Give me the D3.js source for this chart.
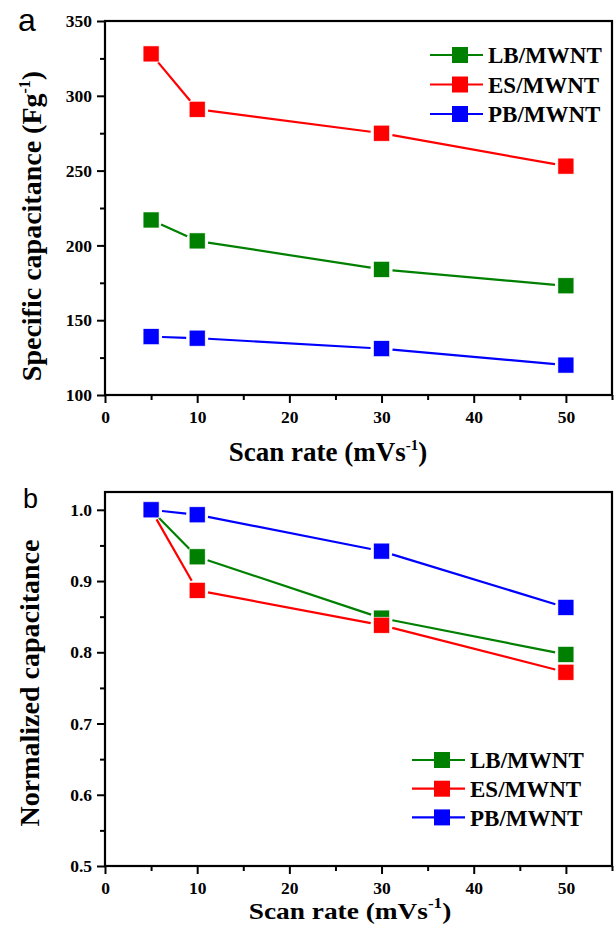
<!DOCTYPE html>
<html>
<head>
<meta charset="utf-8">
<script src="https://cdn.jsdelivr.net/npm/d3@7"></script>
<style>
  body { margin: 0; background: #fff; }
  svg { display: block; }
</style>
</head>
<body>
<svg width="614" height="930"></svg>
<script>
const scanRates = [5, 10, 30, 50];
const seriesNames = ["LB/MWNT", "ES/MWNT", "PB/MWNT"];
const seriesColors = ["#008000", "#ff0000", "#0000ff"];

// specific capacitance (F/g)
const lbCap = [217, 203, 184, 173];
const esCap = [328, 291, 275, 253];
const pbCap = [139, 138, 131, 120];

// normalized capacitance
const lbNorm = [1.0, 0.934, 0.848, 0.797];
const esNorm = [1.0, 0.887, 0.838, 0.772];
const pbNorm = [1.0, 0.993, 0.942, 0.863];

const rateTicks = [0, 10, 20, 30, 40, 50];
const rateMinor = [5, 15, 25, 35, 45, 55];
const capTicks = [100, 150, 200, 250, 300, 350];
const capMinor = [125, 175, 225, 275, 325];
const normTicks = [0.5, 0.6, 0.7, 0.8, 0.9, 1.0];
const normMinor = [0.55, 0.65, 0.75, 0.85, 0.95];

const svg = d3.select("svg");
const serif = '"Liberation Serif", "Times New Roman", serif';

const markerSize = 16;
const lineGap = 11;

const boldText = (sel, size) =>
  sel.style("font-family", serif).style("font-weight", "bold").style("font-size", size + "px").attr("fill", "#000");

const panel = (opts) => {
  const { top, left, right, bottom } = opts;
  const innerWidth = right - left;
  const innerHeight = bottom - top;

  const g = svg.append("g").attr("transform", `translate(${left},${top})`);

  const xScale = d3.scaleLinear().domain([0, 55]).range([0, innerWidth]);
  const yScale = d3.scaleLinear().domain(opts.yDomain).range([innerHeight, 0]);

  // minor ticks
  g.append("g")
    .attr("transform", `translate(0,${innerHeight})`)
    .call(d3.axisBottom(xScale).tickValues(rateMinor).tickSize(5).tickFormat(""));
  g.append("g")
    .call(d3.axisLeft(yScale).tickValues(opts.yMinor).tickSize(5).tickFormat(""));

  // major ticks
  g.append("g")
    .attr("transform", `translate(0,${innerHeight})`)
    .call(d3.axisBottom(xScale).tickValues(rateTicks).tickSize(8).tickPadding(8).tickFormat(d3.format("d")));
  g.append("g")
    .call(d3.axisLeft(yScale).tickValues(opts.yTicks).tickSize(8).tickPadding(5).tickFormat(opts.yFormat));

  g.selectAll(".domain").remove();
  g.selectAll(".tick line").attr("stroke", "#000").attr("stroke-width", 2);
  boldText(g.selectAll(".tick text"), 17.5);

  // frame
  g.append("rect")
    .attr("width", innerWidth)
    .attr("height", innerHeight)
    .attr("fill", "none")
    .attr("stroke", "#000")
    .attr("stroke-width", 2.2);

  // series: lines trimmed near the markers, then markers
  opts.series.forEach((values, i) => {
    const pts = scanRates.map((r, k) => [xScale(r), yScale(values[k])]);
    const segs = d3.pairs(pts).map(([a, b]) => {
      const dx = b[0] - a[0];
      const dy = b[1] - a[1];
      const len = Math.hypot(dx, dy);
      const ux = dx / len;
      const uy = dy / len;
      return [
        [a[0] + ux * lineGap, a[1] + uy * lineGap],
        [b[0] - ux * lineGap, b[1] - uy * lineGap],
      ];
    });
    g.append("g")
      .selectAll("line")
      .data(segs)
      .enter()
      .append("line")
      .attr("x1", (d) => d[0][0])
      .attr("y1", (d) => d[0][1])
      .attr("x2", (d) => d[1][0])
      .attr("y2", (d) => d[1][1])
      .attr("stroke", seriesColors[i])
      .attr("stroke-width", 2.2);
  });

  opts.series.forEach((values, i) => {
    g.append("g")
      .selectAll("rect")
      .data(scanRates.map((r, k) => [r, values[k]]))
      .enter()
      .append("rect")
      .attr("x", (d) => xScale(d[0]) - markerSize / 2)
      .attr("y", (d) => yScale(d[1]) - markerSize / 2)
      .attr("width", markerSize)
      .attr("height", markerSize)
      .attr("fill", seriesColors[i])
      .attr("stroke", "#fff")
      .attr("stroke-width", 0.6);
  });

  // legend
  const lg = g.append("g").attr("transform", `translate(${opts.legend.x},${opts.legend.y})`);
  const rows = lg
    .selectAll("g")
    .data(seriesNames)
    .enter()
    .append("g")
    .attr("transform", (d, i) => `translate(0,${i * opts.legend.step})`);
  rows.append("line")
    .attr("x1", 0)
    .attr("x2", 53)
    .attr("stroke", (d, i) => seriesColors[i])
    .attr("stroke-width", 2.2);
  rows.append("rect")
    .attr("x", 30 - markerSize / 2)
    .attr("y", -markerSize / 2)
    .attr("width", markerSize)
    .attr("height", markerSize)
    .attr("fill", (d, i) => seriesColors[i]);
  boldText(
    rows.append("text").attr("x", 58).attr("dy", "0.36em").text((d) => d),
    23
  );

  // axis titles
  const xt = svg.append("text")
    .attr("transform", `translate(${opts.xTitle.x},${opts.xTitle.y}) scale(${opts.xTitle.sx},1)`)
    .attr("text-anchor", "middle");
  boldText(xt, opts.xTitle.size);
  xt.append("tspan").text("Scan rate (mVs");
  xt.append("tspan").attr("dy", -11).style("font-size", "15px").text("-1");
  xt.append("tspan").attr("dy", 11).text(")");

  const yt = svg.append("text")
    .attr("transform", `translate(${opts.yTitle.x},${opts.yTitle.y}) rotate(-90)`)
    .attr("text-anchor", "middle");
  boldText(yt, 28);
  yt.append("tspan").text(opts.yTitle.text);
  if (opts.yTitle.sup) {
    yt.append("tspan").attr("dy", -11).style("font-size", "16px").text(opts.yTitle.sup);
    yt.append("tspan").attr("dy", 11).text(")");
  }

  // panel letter
  svg.append("text")
    .attr("x", opts.letter.x)
    .attr("y", opts.letter.y)
    .style("font-family", '"Liberation Sans", Arial, sans-serif')
    .style("font-weight", "normal")
    .style("font-size", opts.letter.size + "px")
    .attr("fill", "#000")
    .text(opts.letter.text);
};

panel({
  top: 21,
  left: 105,
  right: 612,
  bottom: 395,
  yDomain: [100, 350],
  yTicks: capTicks,
  yMinor: capMinor,
  yFormat: d3.format("d"),
  series: [lbCap, esCap, pbCap],
  legend: { x: 325, y: 34, step: 29.5 },
  xTitle: { x: 328, y: 461, size: 27, sx: 1 },
  yTitle: { x: 41, y: 226, text: "Specific capacitance (Fg", sup: "-1" },
  letter: { x: 18, y: 31, size: 32, text: "a" },
});

panel({
  top: 492,
  left: 105,
  right: 612,
  bottom: 866,
  yDomain: [0.5, 1.025],
  yTicks: normTicks,
  yMinor: normMinor,
  yFormat: d3.format(".1f"),
  series: [lbNorm, esNorm, pbNorm],
  legend: { x: 307, y: 268, step: 28.7 },
  xTitle: { x: 350, y: 919, size: 24, sx: 1.14 },
  yTitle: { x: 39, y: 683, text: "Normalized capacitance" },
  letter: { x: 23, y: 508, size: 27, text: "b" },
});
</script>
</body>
</html>
